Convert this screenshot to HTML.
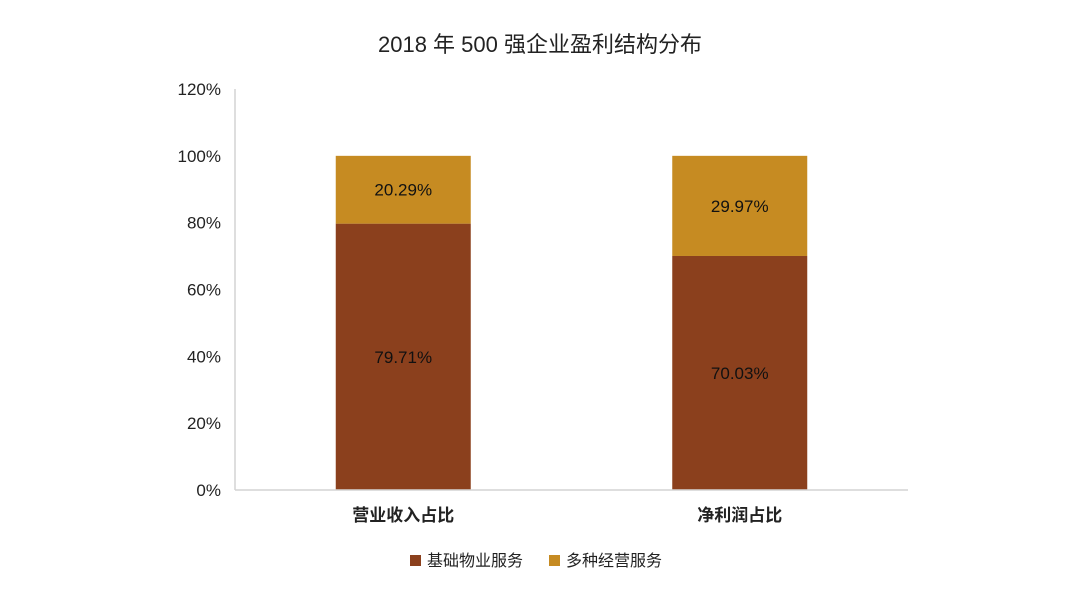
<!DOCTYPE html>
<html><head><meta charset="utf-8"><style>
html,body{margin:0;padding:0;background:#fff;}
svg text{font-family:"Liberation Sans","Noto Sans CJK SC",sans-serif;}
</style></head><body>
<svg id="chart" width="1080" height="593" viewBox="0 0 1080 593">
<text x="540" y="52" text-anchor="middle" font-size="22" fill="#222">2018 年 500 强企业盈利结构分布</text>
<g id="yaxis"></g>
<g id="bars"></g>
<g id="xaxis"></g>
<g>
<g><rect x="410" y="555" width="11" height="11" fill="#8B401D"/><text x="427" y="566" font-size="16" fill="#222">基础物业服务</text></g>
<g><rect x="549" y="555" width="11" height="11" fill="#C68B22"/><text x="566" y="566" font-size="16" fill="#222">多种经营服务</text></g>
</g>
</svg>
<script>
const categories = ["营业收入占比", "净利润占比"];
const basicValues = [79.71, 70.03];
const diverseValues = [20.29, 29.97];
const yTicks = [0, 20, 40, 60, 80, 100, 120];
const ns = "http://www.w3.org/2000/svg";
const x0 = 235, x1 = 908, yBase = 490, yTop = 89, yMax = 120;
function y(v){ return yBase - (yBase - yTop) * v / yMax; }
const band = (x1 - x0) / categories.length;
function xc(i){ return x0 + band * (i + 0.5); }
const bw = 135;
function mk(tag, attrs, parent){ const e = document.createElementNS(ns, tag); for (const k in attrs) e.setAttribute(k, attrs[k]); parent.appendChild(e); return e; }
const ya = document.getElementById('yaxis'), xa = document.getElementById('xaxis'), bars = document.getElementById('bars');
const yl = mk('line', {x1: x0, x2: x0, y1: yTop, y2: yBase, stroke: '#d4d4d4', 'stroke-width': 1.5}, ya);


yTicks.forEach(t => {
  const tx = mk('text', {x: 221, y: y(t) + 6, 'text-anchor': 'end', 'font-size': 17, fill: '#222'}, ya);
  tx.textContent = t + '%';
  
  
});
const xl = mk('line', {x1: x0, x2: x1, y1: yBase, y2: yBase, stroke: '#d4d4d4', 'stroke-width': 1.5}, xa);


categories.forEach((c, i) => {
  const cx = xc(i);
  const b = basicValues[i], d = diverseValues[i];
  const r1 = mk('rect', {x: cx - bw/2, y: y(b), width: bw, height: yBase - y(b), fill: '#8B401D'}, bars);
  
  
  const r2 = mk('rect', {x: cx - bw/2, y: y(b + d), width: bw, height: y(b) - y(b + d), fill: '#C68B22'}, bars);
  
  
  const t1 = mk('text', {x: cx, y: (y(b) + yBase) / 2 + 6, 'text-anchor': 'middle', 'font-size': 17, fill: '#111'}, bars);
  t1.textContent = b.toFixed(2) + '%';
  
  
  const t2 = mk('text', {x: cx, y: (y(b) + y(b + d)) / 2 + 6, 'text-anchor': 'middle', 'font-size': 17, fill: '#111'}, bars);
  t2.textContent = d.toFixed(2) + '%';
  
  
  const cl = mk('text', {x: cx, y: 521, 'text-anchor': 'middle', 'font-size': 17, 'font-weight': 'bold', fill: '#222'}, xa);
  cl.textContent = c;
  
  
});
</script>
</body></html>
